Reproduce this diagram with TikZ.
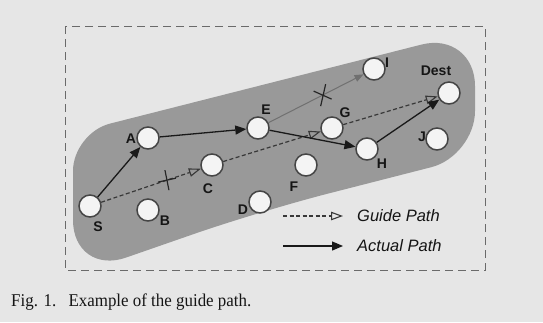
\documentclass[tikz,border=0pt]{standalone}
\usepackage{fontspec}
\setmainfont{Liberation Serif}
\setsansfont{Liberation Sans}
\usetikzlibrary{arrows.meta}
\definecolor{bgc}{HTML}{E6E6E6}
\definecolor{bandc}{HTML}{999999}
\definecolor{nodefill}{HTML}{F4F4F4}
\definecolor{nodeedge}{HTML}{454545}
\definecolor{guidec}{HTML}{383838}
\definecolor{failc}{HTML}{707070}
\definecolor{framec}{HTML}{6A6A6A}
\definecolor{txtc}{HTML}{151515}
\begin{document}
\begin{tikzpicture}[x=1pt,y=-1pt,
  vnode/.style={circle, minimum size=22pt, inner sep=0pt, fill=nodefill, draw=nodeedge, line width=1.5pt},
  lbl/.style={font=\sffamily\bfseries\fontsize{14}{14}\selectfont, text=txtc, inner sep=0pt},
  legtext/.style={font=\sffamily\itshape\fontsize{16.5}{16.5}\selectfont, text=txtc, inner sep=0pt, anchor=west},
  actual/.style={draw=black!90, line width=1.3pt, -{Triangle[length=11pt,width=9pt]}},
  guide/.style={draw=guidec, line width=1.2pt, dash pattern=on 4pt off 2.5pt, -{Triangle[open,length=12pt,width=8.5pt,line width=1.1pt]}},
  failed/.style={draw=failc, line width=1pt, -{Triangle[length=9pt,width=7pt]}},
  crossmark/.style={draw=black!85, line width=1.2pt}
]
\path[use as bounding box, fill=bgc] (0,0) rectangle (543,322);
\draw[framec, line width=1pt, dash pattern=on 8pt off 5pt] (65,26) rectangle (485,270);
\fill[bandc] (73,200) [rounded corners=38pt] -- (73,133) [rounded corners=55pt] -- (475,31)
  [rounded corners=45pt] -- (475,156) [rounded corners=70pt] -- (260,211)
  [rounded corners=56pt] -- (73,276) [sharp corners] -- cycle;
% nodes
\node[vnode] (S) at (90,206) {};
\node[vnode] (B) at (148,210) {};
\node[vnode] (A) at (148,138) {};
\node[vnode] (C) at (212,165) {};
\node[vnode] (D) at (260,202) {};
\node[vnode] (E) at (258,128) {};
\node[vnode] (F) at (306,165) {};
\node[vnode] (G) at (332,128) {};
\node[vnode] (I) at (374,69) {};
\node[vnode] (H) at (367,149) {};
\node[vnode] (J) at (437,139) {};
\node[vnode] (Dest) at (449,93) {};
% labels
\node[lbl] (lS) at (98,227) {S};
\node[lbl] (lB) at (165,221) {B};
\node[lbl] (lA) at (131,139) {A};
\node[lbl] (lC) at (208,189) {C};
\node[lbl] (lD) at (243,210) {D};
\node[lbl] (lE) at (266,110) {E};
\node[lbl] (lF) at (294,187) {F};
\node[lbl] (lG) at (345,113) {G};
\node[lbl] (lI) at (387,63) {I};
\node[lbl] (lH) at (382,164) {H};
\node[lbl] (lJ) at (422,137) {J};
\node[lbl] (lDest) at (436,71) {Dest};
% paths
\draw[failed] (E) -- coordinate[pos=0.57] (x2) (I);
\draw[guide] (S) -- coordinate[pos=0.66] (x1) (C);
\draw[guide] (C) -- (G);
\draw[guide] (G) -- (Dest);
\draw[actual] (S) -- (A);
\draw[actual] (A) -- (E);
\draw[actual] (E) -- (H);
\draw[actual] (H) -- (Dest);
% crosses
\draw[crossmark] ([shift={(-9,2)}]x1) -- ([shift={(9,-2)}]x1);
\draw[crossmark] ([shift={(-2,-10)}]x1) -- ([shift={(2,10)}]x1);
\draw[crossmark] ([shift={(-9,-4)}]x2) -- ([shift={(9,4)}]x2);
\draw[crossmark] ([shift={(3,-11)}]x2) -- ([shift={(-2,11)}]x2);
% legend
\coordinate (g1) at (283,216);
\coordinate (g2) at (343,216);
\coordinate (a1) at (283,246);
\coordinate (a2) at (343,246);
\draw[guide] (g1) -- (g2);
\draw[actual] (a1) -- (a2);
\node[legtext] (gt) at (357,216) {Guide Path};
\node[legtext] (at) at (357,246) {Actual Path};
% caption
\node[anchor=west, inner sep=0pt, font=\fontsize{18}{18}\selectfont, text=txtc] (cap) at (11,302) {\scalebox{0.94}[1]{Fig. 1.\hspace{13pt}Example of the guide path.}};
\end{tikzpicture}
\end{document}
